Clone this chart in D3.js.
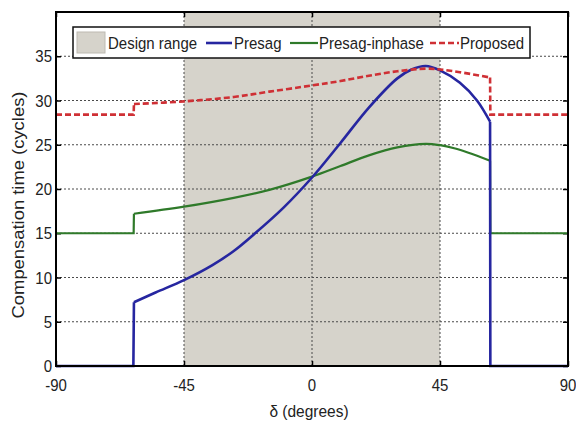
<!DOCTYPE html>
<html>
<head>
<meta charset="utf-8">
<script src="https://cdn.jsdelivr.net/npm/d3@7"></script>
<style>
  html, body { margin: 0; padding: 0; background: #fff; }
  svg { display: block; }
  text { font-family: "Liberation Sans", Arial, sans-serif; fill: #222; }
</style>
</head>
<body>
<svg id="chart" width="576" height="423"></svg>
<script>
// Compensation time versus phase jump angle delta (degrees)
const xTicks = [-90, -45, 0, 45, 90];
const yTicks = [0, 5, 10, 15, 20, 25, 30, 35];
const designRange = [-45, 45];

const presagDeg = [-90, -62.8, -62.6, -55, -45, -35, -27.5, -20, -10, 0, 10, 20, 30, 35, 40, 45, 52, 58, 62.6, 62.7, 90];
const presagVal = [0, 0, 7.2, 8.3, 9.7, 11.4, 13.0, 15.0, 17.9, 21.3, 25.2, 29.2, 32.5, 33.5, 33.9, 33.4, 32.0, 30.0, 27.6, 0, 0];

const inphaseDeg = [-90, -62.7, -62.6, -45, -27.5, -15, 0, 10, 20, 30, 40, 45, 50, 55, 62.6, 62.7, 90];
const inphaseVal = [15, 15, 17.2, 18.0, 19.0, 19.9, 21.4, 22.6, 23.8, 24.7, 25.1, 24.95, 24.6, 24.1, 23.2, 15, 15];

const proposedDeg = [-90, -62.7, -62.6, -45, -27.5, -15, 0, 10, 20, 30, 40, 45, 52, 62.6, 62.7, 90];
const proposedVal = [28.4, 28.4, 29.6, 29.9, 30.4, 31.0, 31.7, 32.2, 32.8, 33.3, 33.6, 33.5, 33.2, 32.6, 28.4, 28.4];

const legendLabels = ["Design range", "Presag", "Presag-inphase", "Proposed"];

const svg = d3.select("#chart");
const pL = 56, pR = 568, pT = 12, pB = 366;
const x = d3.scaleLinear().domain([-90, 90]).range([pL, pR]);
const y = d3.scaleLinear().domain([0, 40]).range([pB, pT]);
const stretch = 1.12; // glyphs are drawn a little taller than wide

// shaded design range
svg.append("rect")
  .attr("x", x(designRange[0])).attr("y", pT)
  .attr("width", x(designRange[1]) - x(designRange[0]))
  .attr("height", pB - pT)
  .attr("fill", "#d6d3cb");

// dotted grid
const grid = svg.append("g").attr("stroke", "#4a4a4a").attr("stroke-width", 1).attr("stroke-dasharray", "2,2");
yTicks.filter(v => v > 0).forEach(v => {
  grid.append("line").attr("x1", pL).attr("x2", pR).attr("y1", y(v)).attr("y2", y(v));
});
xTicks.filter(v => v > -90 && v < 90).forEach(v => {
  grid.append("line").attr("x1", x(v)).attr("x2", x(v)).attr("y1", pT).attr("y2", pB);
});

// axes with inward ticks on all four sides
const axL = d3.axisLeft(y).tickValues(yTicks).tickSize(-5).tickFormat("");
const axR = d3.axisRight(y).tickValues(yTicks).tickSize(-5).tickFormat("");
const axB = d3.axisBottom(x).tickValues(xTicks).tickSize(-5).tickFormat("");
const axT = d3.axisTop(x).tickValues(xTicks).tickSize(-5).tickFormat("");
[[axL, `translate(${pL},0)`], [axR, `translate(${pR},0)`], [axB, `translate(0,${pB})`], [axT, `translate(0,${pT})`]]
  .forEach(([ax, tr]) => {
    const g = svg.append("g").attr("transform", tr).call(ax);
    g.select(".domain").remove();
    g.selectAll(".tick line").attr("stroke", "#000").attr("stroke-width", 1.5);
  });

// tick labels
yTicks.forEach(v => {
  svg.append("text")
    .attr("transform", `translate(${pL - 4},${y(v)}) scale(1,${stretch})`)
    .attr("text-anchor", "end").attr("dy", "0.36em")
    .attr("font-size", 15).text(v);
});
xTicks.forEach(v => {
  svg.append("text")
    .attr("transform", `translate(${x(v)},${391}) scale(1,${stretch})`)
    .attr("text-anchor", "middle")
    .attr("font-size", 15).text(v);
});

// series: straight steps outside the operating window, smooth curve inside it
const zip = (a, b) => a.map((v, i) => [v, b[i]]);
const straight = d3.line().x(d => x(d[0])).y(d => y(d[1]));
const smooth = d3.line().x(d => x(d[0])).y(d => y(d[1])).curve(d3.curveCatmullRom.alpha(0.5));
function seriesPath(deg, val) {
  const pts = zip(deg, val);
  const ctx = d3.path();
  straight.context(ctx)(pts.filter(p => p[0] <= -62.6));
  smooth.context(ctx)(pts.filter(p => Math.abs(p[0]) <= 62.6));
  straight.context(ctx)(pts.filter(p => p[0] >= 62.6));
  return ctx.toString();
}

svg.append("path").attr("d", seriesPath(inphaseDeg, inphaseVal))
  .attr("fill", "none").attr("stroke", "#2f7a2a").attr("stroke-width", 2.2);
svg.append("path").attr("d", seriesPath(presagDeg, presagVal))
  .attr("fill", "none").attr("stroke", "#2626a0").attr("stroke-width", 2.6);
svg.append("path").attr("d", seriesPath(proposedDeg, proposedVal))
  .attr("fill", "none").attr("stroke", "#cf3035").attr("stroke-width", 2.6)
  .attr("stroke-dasharray", "6,3");

// axes box
svg.append("rect").attr("x", pL).attr("y", pT)
  .attr("width", pR - pL).attr("height", pB - pT)
  .attr("fill", "none").attr("stroke", "#000").attr("stroke-width", 2);

// legend
const lg = svg.append("g");
lg.append("rect").attr("x", 73).attr("y", 27).attr("width", 457).attr("height", 31)
  .attr("fill", "#fff").attr("stroke", "#111").attr("stroke-width", 1.5);
lg.append("rect").attr("x", 77).attr("y", 32).attr("width", 28).attr("height", 21)
  .attr("fill", "#d6d3cb").attr("stroke", "#bdbab2");
const ly = 43;
const legendItems = [
  { x1: 206, x2: 232, color: "#2626a0", dash: null, w: 2.6 },
  { x1: 290, x2: 318, color: "#2f7a2a", dash: null, w: 2.2 },
  { x1: 430, x2: 459, color: "#cf3035", dash: "6,3", w: 2.6 }
];
legendItems.forEach(it => {
  lg.append("line").attr("x1", it.x1).attr("x2", it.x2).attr("y1", ly).attr("y2", ly)
    .attr("stroke", it.color).attr("stroke-width", it.w).attr("stroke-dasharray", it.dash);
});
const textX = [108, 234, 319, 460];
legendLabels.forEach((t, i) => {
  lg.append("text")
    .attr("transform", `translate(${textX[i]},${ly}) scale(1,${stretch})`)
    .attr("dy", "0.36em").attr("font-size", 15).text(t);
});

// axis titles
svg.append("text")
  .attr("transform", `translate(309,417) scale(1,${stretch})`)
  .attr("text-anchor", "middle").attr("font-size", 15.5).text("δ (degrees)");
svg.append("text")
  .attr("transform", `translate(18.5,205) scale(1,1.15) rotate(-90)`)
  .attr("text-anchor", "middle").attr("dy", "0.35em").attr("font-size", 16)
  .text("Compensation time (cycles)");
</script>
</body>
</html>
